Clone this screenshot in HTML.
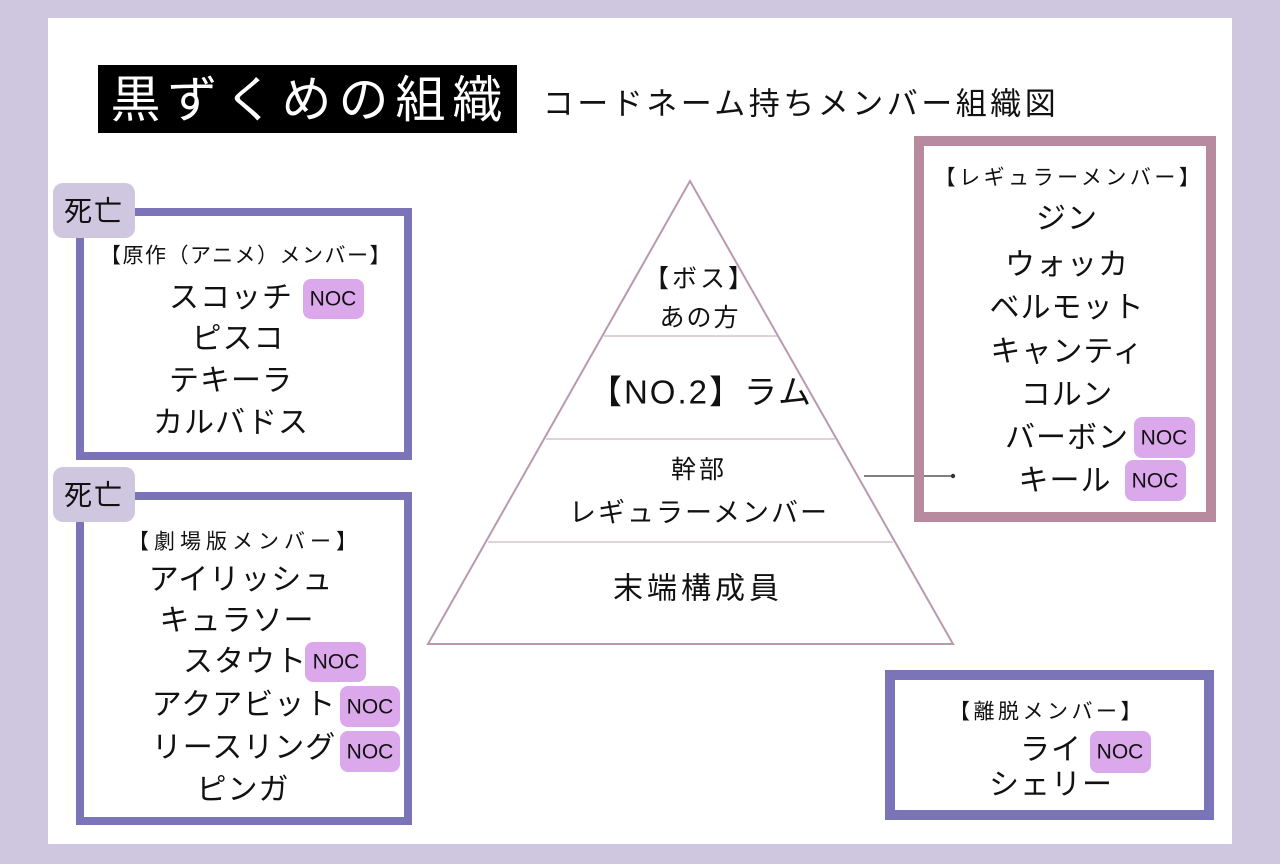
<!DOCTYPE html>
<html><head><meta charset="utf-8"><style>
html,body{margin:0;padding:0;background:#cfc6e0;}
svg{display:block}
text{font-family:"Liberation Sans","Noto Sans CJK JP",sans-serif;fill:#111;dominant-baseline:central;text-anchor:middle}
.n{font-size:30px;letter-spacing:1px}
.h{font-size:21px;letter-spacing:3px}
.b{font-size:21px;font-family:"Liberation Sans",sans-serif}
</style></head><body>
<svg width="1280" height="864" viewBox="0 0 1280 864" xmlns="http://www.w3.org/2000/svg">
<rect x="0" y="0" width="1280" height="864" fill="#cfc6e0"/>
<rect x="48" y="18" width="1184" height="826" fill="#fff"/>
<!-- title -->
<rect x="98" y="65" width="419" height="68" fill="#000"/>
<text x="310" y="100" style="font-size:50px;letter-spacing:7px;fill:#fff">黒ずくめの組織</text>
<text x="801" y="104" style="font-size:31px;letter-spacing:3.5px">コードネーム持ちメンバー組織図</text>

<!-- left box 1 -->
<rect x="80" y="212" width="328" height="244" fill="none" stroke="#7b74b8" stroke-width="8"/>
<rect x="53" y="183" width="82" height="55" rx="10" fill="#cfc6e0"/>
<text x="94" y="211" style="font-size:28px;letter-spacing:2px">死亡</text>
<text class="h" x="246" y="256" style="letter-spacing:1.5px">【原作（アニメ）メンバー】</text>
<text class="n" x="231" y="298">スコッチ</text>
<rect x="303" y="279" width="61" height="40" rx="8" fill="#dca8ec"/>
<text class="b" x="333" y="299">NOC</text>
<text class="n" x="238" y="339">ピスコ</text>
<text class="n" x="231" y="381">テキーラ</text>
<text class="n" x="231" y="423">カルバドス</text>

<!-- left box 2 -->
<rect x="80" y="496" width="328" height="325" fill="none" stroke="#7b74b8" stroke-width="8"/>
<rect x="53" y="467" width="82" height="55" rx="10" fill="#cfc6e0"/>
<text x="94" y="495" style="font-size:28px;letter-spacing:2px">死亡</text>
<text class="h" x="245" y="542" style="letter-spacing:5px">【劇場版メンバー】</text>
<text class="n" x="241" y="580">アイリッシュ</text>
<text class="n" x="237" y="621">キュラソー</text>
<text class="n" x="245" y="662">スタウト</text>
<rect x="305" y="642" width="61" height="40" rx="8" fill="#dca8ec"/>
<text class="b" x="336" y="662">NOC</text>
<text class="n" x="244" y="705">アクアビット</text>
<text class="n" x="244" y="748">リースリング</text>
<rect x="340" y="686" width="60" height="41" rx="8" fill="#dca8ec"/>
<text class="b" x="370" y="707">NOC</text>
<rect x="340" y="731" width="60" height="41" rx="8" fill="#dca8ec"/>
<text class="b" x="370" y="752">NOC</text>
<text class="n" x="243" y="790">ピンガ</text>

<!-- triangle -->
<polygon points="690,181 428,644 953,644" fill="#fff" stroke="#b89aae" stroke-width="2"/>
<line x1="604" y1="336" x2="777" y2="336" stroke="#d6c4cf" stroke-width="1.5"/>
<line x1="546" y1="439" x2="835" y2="439" stroke="#d6c4cf" stroke-width="1.5"/>
<line x1="488" y1="542" x2="893" y2="542" stroke="#d6c4cf" stroke-width="1.5"/>
<text x="700" y="279" style="font-size:25px;letter-spacing:3px">【ボス】</text>
<text x="700" y="318" style="font-size:25px;letter-spacing:2px">あの方</text>
<text x="701" y="392" style="font-size:33px;letter-spacing:2px">【NO.2】ラム</text>
<text x="699" y="470" style="font-size:25px;letter-spacing:3px">幹部</text>
<text x="699" y="513" style="font-size:27px;letter-spacing:2px">レギュラーメンバー</text>
<text x="698" y="589" style="font-size:30px;letter-spacing:4px">末端構成員</text>
<line x1="864" y1="476" x2="953" y2="476" stroke="#333" stroke-width="1.2"/>
<circle cx="953" cy="476" r="2.2" fill="#333"/>

<!-- right box -->
<rect x="919" y="141" width="292" height="376" fill="none" stroke="#b88aa0" stroke-width="10"/>
<text class="h" x="1069" y="178" style="letter-spacing:3.5px">【レギュラーメンバー】</text>
<text class="n" x="1067" y="219">ジン</text>
<text class="n" x="1067" y="265">ウォッカ</text>
<text class="n" x="1067" y="308">ベルモット</text>
<text class="n" x="1067" y="352">キャンティ</text>
<text class="n" x="1067" y="395">コルン</text>
<text class="n" x="1067" y="438">バーボン</text>
<rect x="1134" y="417" width="61" height="41" rx="8" fill="#dca8ec"/>
<text class="b" x="1164" y="438">NOC</text>
<text class="n" x="1065" y="481">キール</text>
<rect x="1125" y="460" width="61" height="41" rx="8" fill="#dca8ec"/>
<text class="b" x="1155" y="481">NOC</text>

<!-- bottom right box -->
<rect x="890" y="675" width="319" height="140" fill="none" stroke="#7b74b8" stroke-width="10"/>
<text class="h" x="1047" y="712" style="letter-spacing:3.5px">【離脱メンバー】</text>
<text class="n" x="1051" y="750">ライ</text>
<rect x="1090" y="731" width="61" height="42" rx="8" fill="#dca8ec"/>
<text class="b" x="1120" y="752">NOC</text>
<text class="n" x="1051" y="785">シェリー</text>
</svg>
</body></html>
